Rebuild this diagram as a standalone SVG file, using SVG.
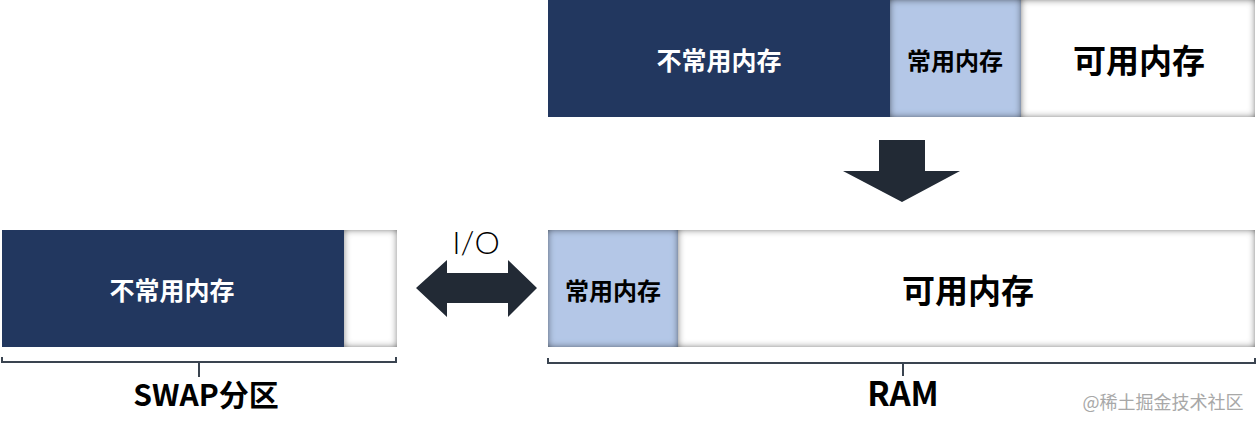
<svg xmlns="http://www.w3.org/2000/svg" width="1258" height="429" viewBox="0 0 1258 429">
<style>
.dark{fill:#22375f}
.light{fill:#b4c7e7}
.white{fill:#ffffff}
.t{font-family:"Noto Sans CJK SC","Liberation Sans",sans-serif;font-weight:700;text-anchor:middle;dominant-baseline:central}
.tw{fill:#ffffff}
.tb{fill:#000000}
.brace{fill:none;stroke:#3a4450;stroke-width:2}
.arr{fill:#222a35}
</style>
<defs>
<filter id="inner" x="-10%" y="-10%" width="120%" height="120%">
<feFlood flood-color="#1a1a1a" flood-opacity="1"/>
<feComposite in2="SourceAlpha" operator="out"/>
<feGaussianBlur stdDeviation="3.5"/>
<feComposite in2="SourceAlpha" operator="in" result="s"/>
<feMerge><feMergeNode in="SourceGraphic"/><feMergeNode in="s"/></feMerge>
</filter>
</defs>

<g id="top-ram">
<rect class="dark" x="548" y="0" width="342" height="117"/>
<rect class="light" x="890" y="0" width="131" height="117" filter="url(#inner)"/>
<rect class="white" x="1021" y="0" width="234" height="117" filter="url(#inner)"/>
<text class="t tw" x="719" y="59" font-size="25">不常用内存</text>
<text class="t tb" x="955" y="59" font-size="24">常用内存</text>
<text class="t tb" x="1139" y="59" font-size="33">可用内存</text>
</g>

<g id="swap">
<rect class="dark" x="2" y="230" width="342" height="117"/>
<rect class="white" x="344" y="230" width="53" height="117" filter="url(#inner)"/>
<text class="t tw" x="172" y="289" font-size="25">不常用内存</text>
</g>

<g id="bottom-ram">
<rect class="light" x="548" y="230" width="130" height="117" filter="url(#inner)"/>
<rect class="white" x="678" y="230" width="577" height="117" filter="url(#inner)"/>
<text class="t tb" x="613" y="289" font-size="24">常用内存</text>
<text class="t tb" x="968" y="289" font-size="33">可用内存</text>
</g>

<g id="connectors">
<polygon class="arr" points="879,140 925,140 925,171 960,171 902,202 843,171 879,171"/>
<polygon class="arr" points="416,288 447,260 447,273 508,273 508,260 537,288 508,317 508,303 447,303 447,317"/>
<text x="476" y="254" font-family="Lato,'Open Sans',sans-serif" font-weight="300" font-size="32" text-anchor="middle" fill="#000">I/O</text>
</g>

<g id="swap-brace">
<path class="brace" d="M2,357 L2,362 L396,362 L396,357 M199,362 L199,377"/>
<text class="t tb" x="206" y="393" font-size="30">SWAP分区</text>
</g>

<g id="ram-brace">
<path class="brace" d="M548,358 L548,363 L1255,363 L1255,358 M903,363 L903,376"/>
<text class="t tb" x="903" y="392" font-size="33">RAM</text>
</g>

<text x="1163" y="409" font-family="'Noto Sans CJK SC',sans-serif" font-size="18" text-anchor="middle" fill="#a8a8a8">@稀土掘金技术社区</text>
</svg>
